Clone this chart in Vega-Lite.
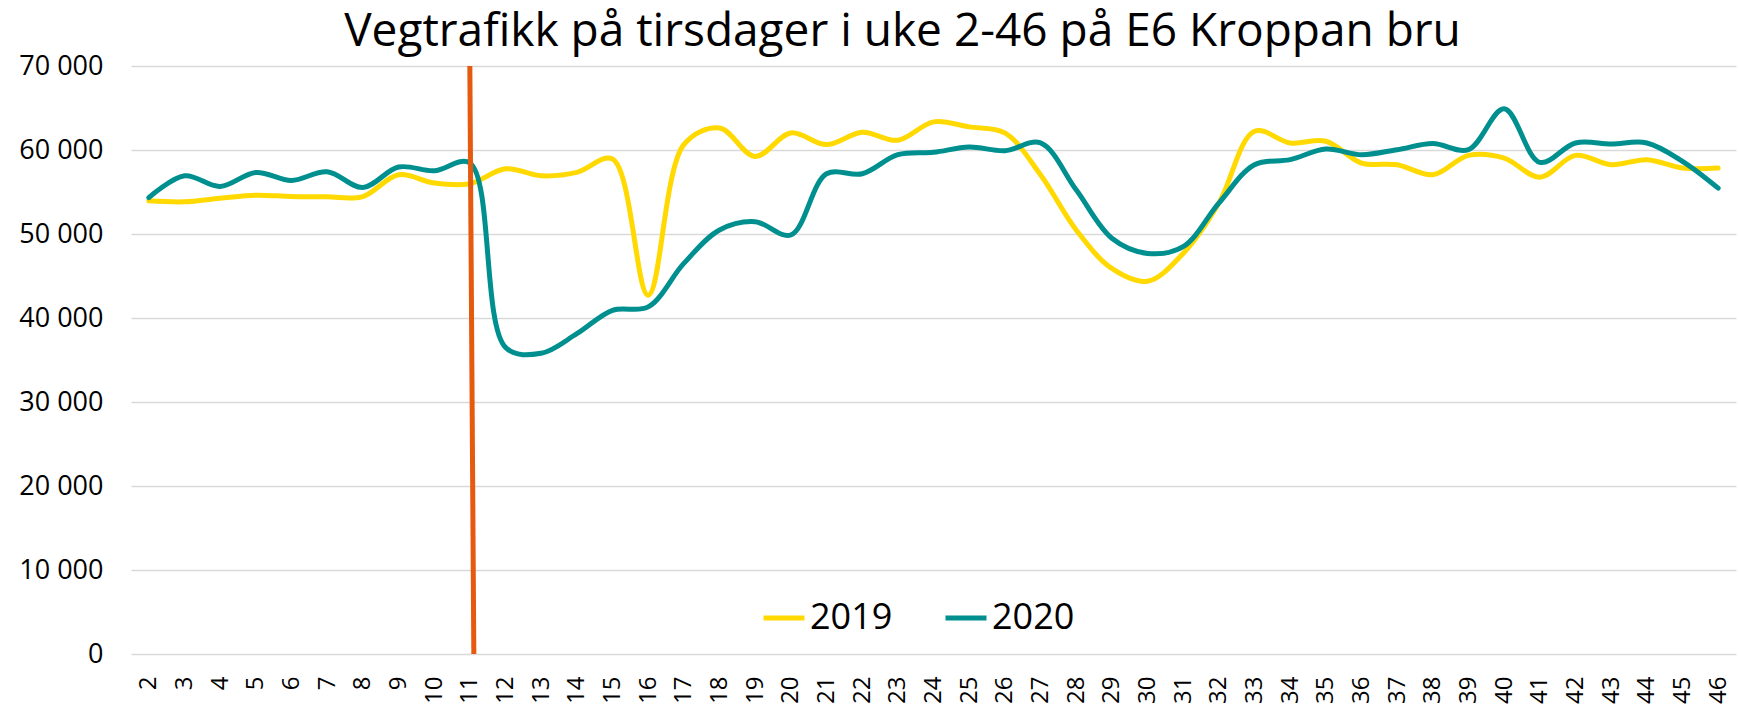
{
  "$schema": "https://vega.github.io/schema/vega-lite/v6.json",
  "width": 1605,
  "height": 588,
  "autosize": {"type": "none"},
  "padding": {"left": 131, "top": 66, "right": 3, "bottom": 55},
  "background": "white",
  "config": {"view": {"stroke": null}, "font": "Open Sans"},
  "title": {
    "text": "Vegtrafikk på tirsdager i uke 2-46 på E6 Kroppan bru",
    "font": "Open Sans",
    "fontSize": 46,
    "fontWeight": "normal",
    "color": "#000000",
    "anchor": "middle",
    "frame": "group",
    "dx": -31,
    "baseline": "alphabetic",
    "offset": -40
  },
  "layer": [
    {
      "data": {
        "values": [
          {"uke": 2, "year": "2019", "trafikk": 53950},
          {"uke": 3, "year": "2019", "trafikk": 53830},
          {"uke": 4, "year": "2019", "trafikk": 54260},
          {"uke": 5, "year": "2019", "trafikk": 54620},
          {"uke": 6, "year": "2019", "trafikk": 54460},
          {"uke": 7, "year": "2019", "trafikk": 54420},
          {"uke": 8, "year": "2019", "trafikk": 54460},
          {"uke": 9, "year": "2019", "trafikk": 57050},
          {"uke": 10, "year": "2019", "trafikk": 56060},
          {"uke": 11, "year": "2019", "trafikk": 55980},
          {"uke": 12, "year": "2019", "trafikk": 57770},
          {"uke": 13, "year": "2019", "trafikk": 56930},
          {"uke": 14, "year": "2019", "trafikk": 57330},
          {"uke": 15, "year": "2019", "trafikk": 58920},
          {"uke": 16, "year": "2019", "trafikk": 42710},
          {"uke": 17, "year": "2019", "trafikk": 60640},
          {"uke": 18, "year": "2019", "trafikk": 62630},
          {"uke": 19, "year": "2019", "trafikk": 59240},
          {"uke": 20, "year": "2019", "trafikk": 62030},
          {"uke": 21, "year": "2019", "trafikk": 60640},
          {"uke": 22, "year": "2019", "trafikk": 62110},
          {"uke": 23, "year": "2019", "trafikk": 61160},
          {"uke": 24, "year": "2019", "trafikk": 63350},
          {"uke": 25, "year": "2019", "trafikk": 62750},
          {"uke": 26, "year": "2019", "trafikk": 62030},
          {"uke": 27, "year": "2019", "trafikk": 57050},
          {"uke": 28, "year": "2019", "trafikk": 50480},
          {"uke": 29, "year": "2019", "trafikk": 45900},
          {"uke": 30, "year": "2019", "trafikk": 44380},
          {"uke": 31, "year": "2019", "trafikk": 47690},
          {"uke": 32, "year": "2019", "trafikk": 53670},
          {"uke": 33, "year": "2019", "trafikk": 62230},
          {"uke": 34, "year": "2019", "trafikk": 60840},
          {"uke": 35, "year": "2019", "trafikk": 61040},
          {"uke": 36, "year": "2019", "trafikk": 58450},
          {"uke": 37, "year": "2019", "trafikk": 58250},
          {"uke": 38, "year": "2019", "trafikk": 57050},
          {"uke": 39, "year": "2019", "trafikk": 59360},
          {"uke": 40, "year": "2019", "trafikk": 59040},
          {"uke": 41, "year": "2019", "trafikk": 56770},
          {"uke": 42, "year": "2019", "trafikk": 59360},
          {"uke": 43, "year": "2019", "trafikk": 58250},
          {"uke": 44, "year": "2019", "trafikk": 58850},
          {"uke": 45, "year": "2019", "trafikk": 57850},
          {"uke": 46, "year": "2019", "trafikk": 57850},
          {"uke": 2, "year": "2020", "trafikk": 54340},
          {"uke": 3, "year": "2020", "trafikk": 56930},
          {"uke": 4, "year": "2020", "trafikk": 55660},
          {"uke": 5, "year": "2020", "trafikk": 57330},
          {"uke": 6, "year": "2020", "trafikk": 56380},
          {"uke": 7, "year": "2020", "trafikk": 57410},
          {"uke": 8, "year": "2020", "trafikk": 55540},
          {"uke": 9, "year": "2020", "trafikk": 57970},
          {"uke": 10, "year": "2020", "trafikk": 57530},
          {"uke": 11, "year": "2020", "trafikk": 58450},
          {"uke": 12, "year": "2020", "trafikk": 36500},
          {"uke": 13, "year": "2020", "trafikk": 35800},
          {"uke": 14, "year": "2020", "trafikk": 38130},
          {"uke": 15, "year": "2020", "trafikk": 40920},
          {"uke": 16, "year": "2020", "trafikk": 41320},
          {"uke": 17, "year": "2020", "trafikk": 46500},
          {"uke": 18, "year": "2020", "trafikk": 50480},
          {"uke": 19, "year": "2020", "trafikk": 51470},
          {"uke": 20, "year": "2020", "trafikk": 49880},
          {"uke": 21, "year": "2020", "trafikk": 57170},
          {"uke": 22, "year": "2020", "trafikk": 57170},
          {"uke": 23, "year": "2020", "trafikk": 59440},
          {"uke": 24, "year": "2020", "trafikk": 59720},
          {"uke": 25, "year": "2020", "trafikk": 60360},
          {"uke": 26, "year": "2020", "trafikk": 59920},
          {"uke": 27, "year": "2020", "trafikk": 60840},
          {"uke": 28, "year": "2020", "trafikk": 55260},
          {"uke": 29, "year": "2020", "trafikk": 49500},
          {"uke": 30, "year": "2020", "trafikk": 47690},
          {"uke": 31, "year": "2020", "trafikk": 48490},
          {"uke": 32, "year": "2020", "trafikk": 53670},
          {"uke": 33, "year": "2020", "trafikk": 58250},
          {"uke": 34, "year": "2020", "trafikk": 58850},
          {"uke": 35, "year": "2020", "trafikk": 60120},
          {"uke": 36, "year": "2020", "trafikk": 59440},
          {"uke": 37, "year": "2020", "trafikk": 60040},
          {"uke": 38, "year": "2020", "trafikk": 60760},
          {"uke": 39, "year": "2020", "trafikk": 60040},
          {"uke": 40, "year": "2020", "trafikk": 64900},
          {"uke": 41, "year": "2020", "trafikk": 58530},
          {"uke": 42, "year": "2020", "trafikk": 60840},
          {"uke": 43, "year": "2020", "trafikk": 60720},
          {"uke": 44, "year": "2020", "trafikk": 60840},
          {"uke": 45, "year": "2020", "trafikk": 58650},
          {"uke": 46, "year": "2020", "trafikk": 55460}
        ]
      },
      "mark": {"type": "line", "interpolate": "catmull-rom", "strokeWidth": 5, "strokeCap": "round", "strokeJoin": "round"},
      "encoding": {
        "x": {
          "field": "uke",
          "type": "ordinal",
          "scale": {"type": "point", "padding": 0.5},
          "axis": {
            "title": null,
            "labelAngle": 270,
            "labelFont": "Open Sans",
            "labelFontSize": 24,
            "labelColor": "#000000",
            "labelPadding": 22,
            "ticks": false,
            "domain": false,
            "grid": false
          }
        },
        "y": {
          "field": "trafikk",
          "type": "quantitative",
          "scale": {"domain": [0, 70000], "nice": false},
          "axis": {
            "title": null,
            "values": [0, 10000, 20000, 30000, 40000, 50000, 60000, 70000],
            "labelExpr": "replace(format(datum.value, ','), ',', ' ')",
            "labelFont": "Open Sans",
            "labelFontSize": 27,
            "labelColor": "#000000",
            "labelPadding": 28,
            "ticks": false,
            "domain": false,
            "grid": true,
            "gridColor": "#D9D9D9",
            "gridWidth": 1.5
          }
        },
        "color": {
          "field": "year",
          "type": "nominal",
          "scale": {"domain": ["2019", "2020"], "range": ["#FFD900", "#008F8F"]},
          "legend": {
            "orient": "none",
            "legendX": 630,
            "legendY": 529,
            "direction": "horizontal",
            "title": null,
            "padding": 0,
            "symbolType": "stroke",
            "symbolSize": 1681,
            "symbolStrokeWidth": 5,
            "labelFont": "Open Sans",
            "labelFontSize": 36,
            "labelColor": "#000000",
            "labelOffset": 3,
            "columnPadding": 42
          }
        }
      }
    },
    {
      "data": {"values": [{}]},
      "mark": {"type": "rule", "color": "#E65A0F", "strokeWidth": 5, "x2Offset": 4},
      "encoding": {
        "x": {"datum": 11, "type": "ordinal"},
        "x2": {"datum": 11},
        "y": {"datum": 70000, "type": "quantitative"},
        "y2": {"datum": 0}
      }
    }
  ]
}
